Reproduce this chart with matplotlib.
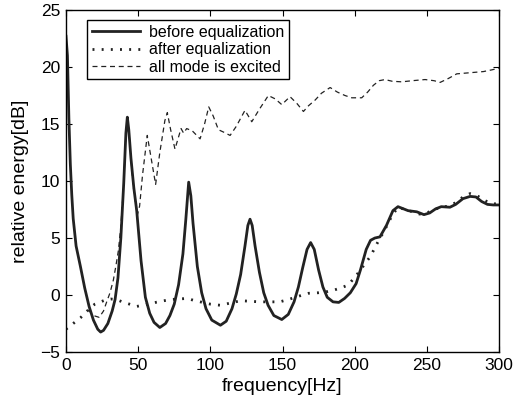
import matplotlib.pyplot as plt

# before equalization (solid line)
f_before = [0, 1, 2, 3, 4, 5, 7, 10, 13, 16, 19, 22, 24, 26, 29, 32, 34, 36, 38, 40,
            41.5, 42.5, 43.5, 45, 47, 49, 52, 55, 58, 61, 65, 69, 72, 75, 78, 81, 83,
            85, 86.5, 88, 91, 94, 97, 101, 107, 111, 115, 118, 121, 124, 126, 127.5,
            129, 131, 134, 137, 140, 144, 149.5, 154, 158, 161, 164, 167, 169.5, 172,
            175, 178, 181, 185, 189, 193, 197, 201, 204, 208, 211, 214, 217.5, 222,
            226.5, 230, 233, 237, 240, 243, 248, 252, 256, 260, 266, 270, 275, 280,
            284, 288, 292, 296, 300]
e_before = [22.7, 21.0, 15.5, 11.5, 8.8, 6.7, 4.3, 2.5, 0.6, -1.0, -2.2, -3.0, -3.25,
            -3.1, -2.5, -1.4, -0.4, 1.5, 5.0, 9.8, 14.2, 15.6, 14.5, 12.0, 9.4, 7.4,
            3.0, -0.2, -1.6, -2.4, -2.85, -2.5, -1.8, -0.8, 0.9, 3.6, 6.6, 9.9, 8.7,
            6.3, 2.5, 0.2, -1.2, -2.2, -2.65, -2.3, -1.2, 0.1, 1.8, 4.3, 6.1, 6.65,
            6.1, 4.3, 2.0, 0.2, -0.9, -1.8, -2.15, -1.7, -0.6, 0.7, 2.4, 4.0, 4.6, 4.0,
            2.2, 0.7, -0.2, -0.6, -0.65, -0.3, 0.2, 1.0, 2.2, 4.0, 4.8, 5.0, 5.1, 6.1,
            7.4, 7.75, 7.6, 7.4, 7.35, 7.3, 7.05, 7.2, 7.55, 7.75, 7.7, 7.95, 8.45,
            8.65, 8.6, 8.2, 7.95, 7.9, 7.9]

# after equalization (dotted line)
f_after = [0, 2, 6, 10, 14, 17, 20, 24, 28, 31, 35, 39, 44, 49, 55, 60, 66, 72, 78,
           84, 88, 93, 100, 107, 114, 121, 128, 134, 141, 148, 154, 160, 168, 175,
           181, 186, 190, 194, 197, 201, 204, 208, 211, 215, 219, 222, 226, 230, 235,
           240, 245, 250, 255, 260, 265, 270, 275, 280, 285, 290, 295, 300]
e_after = [-3.0, -2.8, -2.4, -2.0, -1.5, -1.1, -0.8, -0.6, -0.4, -0.35, -0.4, -0.6,
           -0.8, -1.0, -0.85, -0.7, -0.55, -0.4, -0.35, -0.3, -0.45, -0.6, -0.8, -0.9,
           -0.7, -0.5, -0.55, -0.6, -0.6, -0.6, -0.4, -0.15, 0.15, 0.2, 0.3, 0.45,
           0.6, 0.8, 1.1, 1.7, 2.2, 2.9, 3.4, 4.4, 5.3, 6.0, 7.0, 7.7, 7.5, 7.3, 7.1,
           7.2, 7.5, 7.7, 7.8, 8.1, 8.6, 8.9, 8.7, 8.3, 8.0, 8.0]

# all mode is excited (dashed line)
f_all = [15.5, 19, 23, 26, 28.2, 30.5, 32.8, 34.5, 36.3, 38, 40, 41.5, 42.5, 43.5,
         45, 46.5, 49.4, 51, 53, 56.3, 59, 62.1, 65, 68.5, 70.2, 72.5, 75.5, 79.7,
         81.5, 83.6, 87.5, 92.9, 96, 98.9, 102, 105.6, 109, 113.7, 118, 124, 128.7,
         134, 140.2, 145, 149.5, 155.2, 160, 164.5, 168, 172.6, 177, 183, 188, 193.3,
         198, 204.9, 209, 213, 217, 221, 226, 232.6, 240, 248.8, 255, 259.2, 265,
         270.7, 280, 289.2, 295, 300]
e_all = [-1.3, -1.8, -1.96, -1.4, -0.6, 0.2, 1.3, 2.5, 3.9, 6.0, 9.8, 14.2, 15.6,
         14.5, 12.0, 9.6, 7.0, 7.8, 10.5, 14.0, 12.0, 9.7, 12.5, 15.3, 16.0, 14.5,
         12.8, 14.6, 14.2, 14.6, 14.4, 13.7, 15.0, 16.5, 15.7, 14.5, 14.3, 14.0,
         14.8, 16.2, 15.2, 16.3, 17.5, 17.2, 16.7, 17.4, 16.8, 16.1, 16.6, 17.1,
         17.7, 18.2, 17.8, 17.5, 17.3, 17.3, 17.8, 18.4, 18.8, 18.9, 18.75, 18.7,
         18.8, 18.9, 18.8, 18.65, 19.0, 19.4, 19.5, 19.6, 19.75, 19.9]

plt.rcParams['font.family'] = ['Liberation Sans', 'DejaVu Sans']

fig = plt.figure(figsize=(5.25, 4.07), dpi=100)
ax = fig.add_axes([0.1257, 0.1351, 0.8248, 0.8403])

ax.plot(f_before, e_before, color='#222222', lw=2.0, label='before equalization')
ax.plot(f_after, e_after, color='#222222', lw=2.0, linestyle=(0, (0.7, 2.6)),
        label='after equalization')
ax.plot(f_all, e_all, color='#222222', lw=0.9, linestyle=(0, (4, 3)),
        label='all mode is excited')

ax.set_xlim(0, 300)
ax.set_ylim(-5, 25)
ax.set_xticks([0, 50, 100, 150, 200, 250, 300])
ax.set_yticks([-5, 0, 5, 10, 15, 20, 25])
ax.tick_params(direction='in', top=True, right=True, labelsize=12.5, length=4, pad=4)
for s in ax.spines.values():
    s.set_linewidth(1.0)

ax.set_xlabel('frequency[Hz]', fontsize=14, labelpad=4)
ax.set_ylabel('relative energy[dB]', fontsize=14, labelpad=8)

leg = ax.legend(loc='upper left', bbox_to_anchor=(0.0485, 0.971), borderaxespad=0,
                fontsize=11.5, handlelength=3, labelspacing=0.15, fancybox=False,
                framealpha=1, edgecolor='black', borderpad=0.3, handletextpad=0.6)
leg.get_frame().set_linewidth(1.0)

fig.savefig('out.png', dpi=100)
